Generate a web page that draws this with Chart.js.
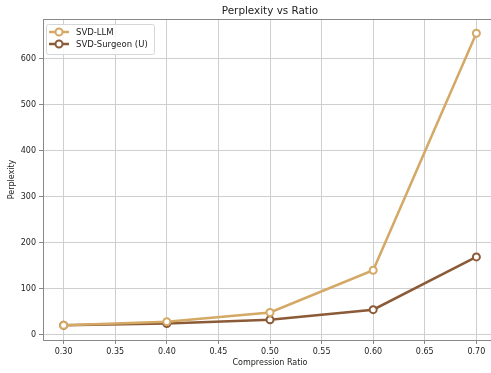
<!DOCTYPE html>
<html lang="en">
<head>
    <meta charset="UTF-8">
    <script src="https://cdn.jsdelivr.net/npm/chart.js"></script>
    <title>Perplexity vs Ratio</title>
    <style>
        html, body {
            margin: 0;
            padding: 0;
            overflow: hidden;
            background: #fff;
        }
        #wrap {
            position: absolute;
            left: 0;
            top: 0;
            width: 497px;
            height: 373px;
        }
    </style>
</head>
<body>

<div id="wrap"><canvas id="pplChart" width="497" height="373"></canvas></div>

<script>
    // values
    const ratios = [0.30, 0.40, 0.50, 0.60, 0.70];
    const svdLlm = [20, 28, 48, 140, 656];
    const svdSurgeon = [20, 24, 32, 54, 169];
    const xTicks = [0.30, 0.35, 0.40, 0.45, 0.50, 0.55, 0.60, 0.65, 0.70];
    const yTicks = [0, 100, 200, 300, 400, 500, 600];

    const FONT = 'DejaVu Sans';
    const textColor = '#222';
    const spineColor = '#888';
    const gridColor = '#cfcfcf';

    // top spine under the lines
    const topSpine = {
        id: 'topSpine',
        beforeDatasetsDraw(chart) {
            const c = chart.ctx;
            const area = chart.chartArea;
            c.save();
            c.strokeStyle = spineColor;
            c.lineWidth = 1;
            c.beginPath();
            c.moveTo(area.left, area.top + 0.5);
            c.lineTo(area.right, area.top + 0.5);
            c.stroke();
            c.restore();
        }
    };

    // title + framed legend inside the axes, like matplotlib
    const extras = {
        id: 'extras',
        afterDraw(chart) {
            const c = chart.ctx;
            const area = chart.chartArea;
            c.save();
            c.fillStyle = textColor;
            c.font = '10.4px "' + FONT + '"';
            c.textAlign = 'center';
            c.textBaseline = 'middle';
            c.fillText('Perplexity vs Ratio', (area.left + area.right) / 2, 11.5);

            // legend box
            const bx = area.left + 3, by = area.top + 5, bw = 108, bh = 30;
            c.beginPath();
            c.roundRect(bx + 0.5, by + 0.5, bw, bh, 2);
            c.fillStyle = 'rgba(255,255,255,0.85)';
            c.fill();
            c.strokeStyle = '#d6d6d6';
            c.lineWidth = 1;
            c.stroke();

            c.font = '8.5px "' + FONT + '"';
            c.textAlign = 'left';
            chart.data.datasets.forEach((ds, i) => {
                const y = by + 8 + i * 12;
                c.strokeStyle = ds.borderColor;
                c.lineWidth = ds.borderWidth;
                c.beginPath();
                c.moveTo(bx + 3, y);
                c.lineTo(bx + 23, y);
                c.stroke();
                c.beginPath();
                c.arc(bx + 13, y, ds.pointRadius, 0, Math.PI * 2);
                c.fillStyle = '#fff';
                c.fill();
                c.lineWidth = ds.pointBorderWidth;
                c.stroke();
                c.fillStyle = textColor;
                c.fillText(ds.label, bx + 30, y + 0.5);
            });
            c.restore();
        }
    };

    const ctx = document.getElementById('pplChart').getContext('2d');
    const pplChart = new Chart(ctx, {
        type: 'line',
        data: {
            datasets: [{
                label: 'SVD-LLM',
                data: ratios.map((r, i) => ({x: r, y: svdLlm[i]})),
                borderColor: '#d4a865',
                borderWidth: 2.5,
                pointRadius: 3.5,
                pointBorderWidth: 2,
                pointBackgroundColor: '#fff',
                pointBorderColor: '#d4a865',
                tension: 0
            }, {
                label: 'SVD-Surgeon (U)',
                data: ratios.map((r, i) => ({x: r, y: svdSurgeon[i]})),
                borderColor: '#8b5a36',
                borderWidth: 2.5,
                pointRadius: 3.5,
                pointBorderWidth: 2,
                pointBackgroundColor: '#fff',
                pointBorderColor: '#8b5a36',
                tension: 0
            }]
        },
        options: {
            responsive: false,
            animation: false,
            layout: { autoPadding: false, padding: { top: 19, left: 0, right: 0, bottom: 0 } },
            plugins: {
                legend: { display: false },
                title: { display: false },
                tooltip: { enabled: false }
            },
            scales: {
                x: {
                    type: 'linear',
                    min: 0.28,
                    max: 0.72,
                    afterBuildTicks: s => { s.ticks = xTicks.map(v => ({value: v})); },
                    afterFit: s => { s.height = 33; },
                    ticks: {
                        color: textColor,
                        font: { family: FONT, size: 8 },
                        padding: 3,
                        maxRotation: 0,
                        autoSkip: false,
                        callback: v => v.toFixed(2)
                    },
                    grid: { color: gridColor, tickColor: spineColor, tickLength: 4 },
                    border: { color: spineColor, width: 1 },
                    title: {
                        display: true,
                        text: 'Compression Ratio',
                        color: textColor,
                        font: { family: FONT, size: 8 },
                        padding: { top: 0, bottom: 5 }
                    }
                },
                y: {
                    type: 'linear',
                    min: -12,
                    max: 687,
                    afterBuildTicks: s => { s.ticks = yTicks.map(v => ({value: v})); },
                    afterFit: s => { s.width = 43; },
                    ticks: {
                        color: textColor,
                        font: { family: FONT, size: 8 },
                        padding: 3,
                        autoSkip: false
                    },
                    grid: { color: gridColor, tickColor: spineColor, tickLength: 4 },
                    border: { color: spineColor, width: 1 },
                    title: {
                        display: true,
                        text: 'Perplexity',
                        color: textColor,
                        font: { family: FONT, size: 8 },
                        padding: { top: 7, bottom: 0 }
                    }
                }
            }
        },
        plugins: [topSpine, extras]
    });
</script>

</body>
</html>
